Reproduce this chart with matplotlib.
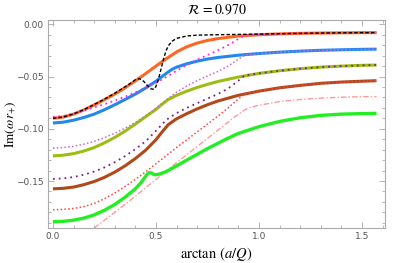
import matplotlib
matplotlib.use("Agg")
import matplotlib.pyplot as plt
from matplotlib.ticker import MultipleLocator, FixedLocator

plt.rcParams["mathtext.fontset"] = "stix"

# ---- data ----
x_orange = [0.0, 0.05, 0.1, 0.15, 0.2, 0.25, 0.3, 0.35, 0.4, 0.45, 0.5, 0.55, 0.6, 0.65, 0.7, 0.75, 0.8, 0.9, 1.0, 1.1, 1.2, 1.3, 1.4, 1.5, 1.5708]
y_orange = [-0.090, -0.0888, -0.0860, -0.0820, -0.0772, -0.0722, -0.0668, -0.0608, -0.0542, -0.0472, -0.0400, -0.0330,
            -0.0265, -0.0215, -0.0180, -0.0155, -0.0137, -0.0113, -0.0100, -0.0092, -0.0087, -0.0084, -0.0082, -0.0080, -0.0080]

x_black = [0.0, 0.05, 0.1, 0.15, 0.2, 0.25, 0.3, 0.35, 0.38, 0.40, 0.42, 0.44, 0.46, 0.475, 0.49, 0.50, 0.51, 0.52, 0.53,
           0.54, 0.55, 0.56, 0.58, 0.6, 0.65, 0.7, 0.8, 0.9, 1.0, 1.2, 1.4, 1.5708]
y_black = [-0.090, -0.0888, -0.0858, -0.0817, -0.0768, -0.0716, -0.0660, -0.0598, -0.0560, -0.0530, -0.0520, -0.0545,
           -0.0590, -0.0618, -0.0622, -0.0595, -0.0540, -0.0465, -0.0385, -0.0310, -0.0250, -0.0205, -0.0160, -0.0135,
           -0.0112, -0.0104, -0.0100, -0.0097, -0.0094, -0.0087, -0.0082, -0.0080]

x_magenta = [0.0, 0.05, 0.1, 0.15, 0.2, 0.25, 0.3, 0.35, 0.4, 0.45, 0.5, 0.55, 0.6, 0.65, 0.7, 0.75, 0.8, 0.85, 0.9, 0.93,
             1.0, 1.1, 1.2, 1.3, 1.4, 1.5, 1.5708]
y_magenta = [-0.0887, -0.0878, -0.0855, -0.0825, -0.0795, -0.0765, -0.0730, -0.0693, -0.0652, -0.0607, -0.0560, -0.0505,
             -0.0445, -0.0390, -0.0340, -0.0295, -0.0250, -0.0200, -0.0140, -0.0108, -0.0100, -0.0092, -0.0087, -0.0084,
             -0.0082, -0.0080, -0.0080]

x_blue = [0.0, 0.05, 0.1, 0.15, 0.2, 0.25, 0.3, 0.35, 0.4, 0.45, 0.5, 0.55, 0.575, 0.6, 0.65, 0.7, 0.75, 0.8, 0.9, 1.0,
          1.1, 1.2, 1.3, 1.4, 1.5, 1.5708]
y_blue = [-0.0945, -0.0937, -0.0918, -0.0892, -0.0860, -0.0818, -0.0770, -0.0720, -0.0668, -0.0610, -0.0545, -0.0470,
          -0.0435, -0.0410, -0.0378, -0.0353, -0.0333, -0.0318, -0.0296, -0.0280, -0.0267, -0.0257, -0.0249, -0.0244,
          -0.0240, -0.0238]

x_violet = [0.0, 0.05, 0.1, 0.15, 0.2, 0.25, 0.3, 0.35, 0.4, 0.45, 0.5, 0.55, 0.6, 0.65, 0.7, 0.75, 0.8, 0.85, 0.9, 0.93,
            1.0, 1.1, 1.2, 1.3, 1.4, 1.5, 1.5708]
y_violet = [-0.1185, -0.1180, -0.1168, -0.1148, -0.1120, -0.1085, -0.1042, -0.0995, -0.0940, -0.0875, -0.0805, -0.0725,
            -0.0650, -0.0590, -0.0540, -0.0495, -0.0452, -0.0400, -0.0335, -0.0295, -0.0280, -0.0267, -0.0257, -0.0249,
            -0.0244, -0.0240, -0.0238]

x_olive = [0.0, 0.05, 0.1, 0.15, 0.2, 0.25, 0.3, 0.35, 0.4, 0.45, 0.5, 0.53, 0.56, 0.6, 0.65, 0.7, 0.75, 0.8, 0.9, 1.0,
           1.1, 1.2, 1.3, 1.4, 1.5, 1.5708]
y_olive = [-0.1260, -0.1253, -0.1238, -0.1213, -0.1180, -0.1135, -0.1083, -0.1023, -0.0955, -0.0885, -0.0815, -0.0765,
           -0.0720, -0.0680, -0.0640, -0.0605, -0.0575, -0.0548, -0.0505, -0.0470, -0.0445, -0.0425, -0.0410, -0.0400,
           -0.0393, -0.0390]

x_purple = [0.0, 0.05, 0.1, 0.15, 0.2, 0.25, 0.3, 0.35, 0.4, 0.45, 0.5, 0.55, 0.6, 0.65, 0.7, 0.75, 0.8, 0.85, 0.9, 0.93,
            1.0, 1.1, 1.2, 1.3, 1.4, 1.5, 1.5708]
y_purple = [-0.1480, -0.1475, -0.1462, -0.1440, -0.1410, -0.1370, -0.1320, -0.1262, -0.1195, -0.1120, -0.1020, -0.0915,
            -0.0850, -0.0800, -0.0755, -0.0712, -0.0668, -0.0615, -0.0540, -0.0490, -0.0470, -0.0445, -0.0425, -0.0410,
            -0.0400, -0.0393, -0.0390]

x_brown = [0.0, 0.05, 0.1, 0.15, 0.2, 0.25, 0.3, 0.35, 0.4, 0.45, 0.5, 0.53, 0.56, 0.6, 0.65, 0.7, 0.75, 0.8, 0.9, 1.0,
           1.1, 1.2, 1.3, 1.4, 1.5, 1.5708]
y_brown = [-0.1575, -0.1570, -0.1558, -0.1535, -0.1505, -0.1465, -0.1415, -0.1355, -0.1285, -0.1205, -0.1105, -0.1030,
           -0.0960, -0.0905, -0.0855, -0.0810, -0.0770, -0.0735, -0.0680, -0.0640, -0.0608, -0.0585, -0.0565, -0.0553,
           -0.0545, -0.0540]

x_red = [0.0, 0.05, 0.1, 0.15, 0.2, 0.25, 0.3, 0.35, 0.4, 0.45, 0.5, 0.55, 0.6, 0.65, 0.7, 0.75, 0.8, 0.85, 0.9, 0.93,
         1.0, 1.1, 1.2, 1.3, 1.4, 1.5, 1.5708]
y_red = [-0.1775, -0.1772, -0.1763, -0.1745, -0.1715, -0.1670, -0.1615, -0.1552, -0.1485, -0.1412, -0.1335, -0.1258,
         -0.1180, -0.1105, -0.1030, -0.0955, -0.0880, -0.0800, -0.0715, -0.0665, -0.0640, -0.0608, -0.0585, -0.0565,
         -0.0553, -0.0545, -0.0540]

x_salmon = [0.2, 0.3, 0.4, 0.5, 0.6, 0.7, 0.8, 0.88, 0.93, 0.96, 1.0, 1.1, 1.2, 1.3, 1.4, 1.5, 1.5708]
y_salmon = [-0.1950, -0.1800, -0.1645, -0.1485, -0.1325, -0.1170, -0.1015, -0.0890, -0.0820, -0.0795, -0.0775, -0.0740,
            -0.0720, -0.0707, -0.0698, -0.0693, -0.0692]

x_green = [0.0, 0.05, 0.1, 0.15, 0.2, 0.25, 0.3, 0.35, 0.4, 0.43, 0.45, 0.46, 0.47, 0.48, 0.49, 0.50, 0.52, 0.55, 0.6,
           0.65, 0.7, 0.75, 0.8, 0.85, 0.9, 1.0, 1.1, 1.2, 1.3, 1.4, 1.5, 1.5708]
y_green = [-0.1890, -0.1886, -0.1875, -0.1855, -0.1825, -0.1780, -0.1725, -0.1655, -0.1575, -0.1510, -0.1455, -0.1430,
           -0.1420, -0.1425, -0.1438, -0.1440, -0.1432, -0.1410, -0.1355, -0.1300, -0.1245, -0.1190, -0.1140, -0.1090,
           -0.1045, -0.0980, -0.0930, -0.0895, -0.0872, -0.0860, -0.0855, -0.0853]

title = r"$\mathcal{R}\,=0.970$"
xlabel = r"$\arctan\,(a/Q)$"
ylabel = r"$\mathrm{Im}(\omega\,r_{+})$"

fig = plt.figure(figsize=(4.07, 2.63), dpi=100)
ax = fig.add_axes([0.118, 0.133, 0.828, 0.791])

ax.plot(x_salmon, y_salmon, color="#ff9a9a", lw=1.0, ls=(0, (4, 1.5, 1, 1.5)))
ax.plot(x_green, y_green, color="#22ee22", lw=2.4, solid_capstyle="butt")
ax.plot(x_brown, y_brown, color="#b0481a", lw=2.2, solid_capstyle="butt")
ax.plot(x_red, y_red, color="#ff4040", lw=1.1, ls=(0, (1, 1.5)))
ax.plot(x_olive, y_olive, color="#9bbd14", lw=2.2, solid_capstyle="butt")
ax.plot(x_purple, y_purple, color="#80208a", lw=1.3, ls=(0, (1, 2.2)))
ax.plot(x_blue, y_blue, color="#2288ee", lw=2.2, solid_capstyle="butt")
ax.plot(x_violet, y_violet, color="#cc66dd", lw=1.1, ls=(0, (1, 1.5)))
ax.plot(x_orange, y_orange, color="#ff6622", lw=2.2, solid_capstyle="butt")
ax.plot(x_magenta, y_magenta, color="#ff22ff", lw=1.3, ls=(0, (1, 2)))
ax.plot(x_black, y_black, color="black", lw=1.0, ls=(0, (2.5, 1.5)))

ax.set_xlim(-0.024, 1.612)
ax.set_ylim(-0.195, 0.0041)

ax.xaxis.set_major_locator(FixedLocator([0.0, 0.5, 1.0, 1.5]))
ax.xaxis.set_minor_locator(MultipleLocator(0.1))
ax.yaxis.set_major_locator(FixedLocator([0.0, -0.05, -0.10, -0.15]))
ax.yaxis.set_minor_locator(MultipleLocator(0.01))
ax.set_xticklabels(["0.0", "0.5", "1.0", "1.5"])
ax.set_yticklabels(["0.00", "\u22120.05", "\u22120.10", "\u22120.15"])

grey = "#aaaaaa"
for s in ax.spines.values():
    s.set_color(grey)
    s.set_linewidth(0.8)
ax.tick_params(which="both", direction="in", top=True, right=True, color=grey,
               labelcolor="#555555", labelsize=6.5, width=0.6)
ax.tick_params(which="major", length=4, pad=3)
ax.tick_params(which="minor", length=2)

ax.set_title(title, fontsize=10, pad=4)
ax.set_xlabel(xlabel, fontsize=10.5, labelpad=3)
ax.set_ylabel(ylabel, fontsize=9.5)
ax.yaxis.set_label_coords(-0.09, 0.5)

fig.savefig("out.png", dpi=100)
